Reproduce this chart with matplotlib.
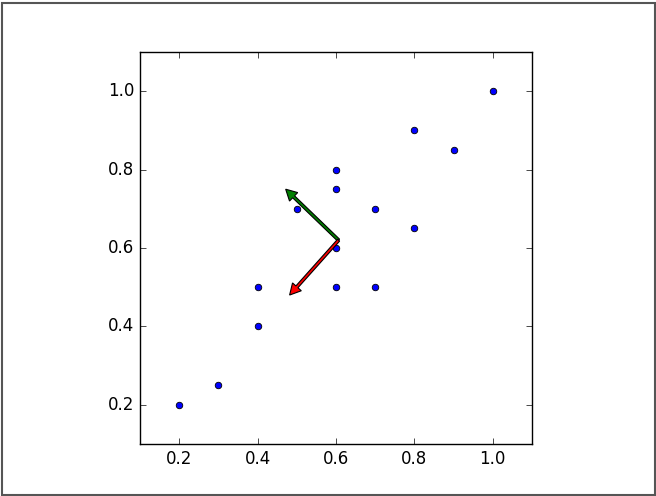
import numpy as np
import matplotlib.pyplot as plt
from matplotlib.patches import Rectangle

plt.style.use('classic')

# data points
x = [0.2, 0.3, 0.4, 0.4, 0.5, 0.6, 0.6, 0.6, 0.6, 0.7, 0.7, 0.8, 0.8, 0.9, 1.0]
y = [0.2, 0.25, 0.4, 0.5, 0.7, 0.5, 0.6, 0.75, 0.8, 0.5, 0.7, 0.65, 0.9, 0.85, 1.0]

# arrow origin and vectors
origin = (np.mean(x), np.mean(y))
vec_green = (-0.135, 0.13)
vec_red = (-0.125, -0.14)

fig = plt.figure(figsize=(6.56, 4.96), dpi=100, facecolor='white')
ax = fig.add_axes([140/656, 1 - 444/496, 392/656, 392/496])

# frame around the whole figure
fig.add_artist(Rectangle((1.5/656, 1.5/496), 653/656, 492/496,
                         transform=fig.transFigure, fill=False,
                         edgecolor='#555555', linewidth=1.5))

ax.scatter(x, y, color='b', edgecolors='k', linewidths=0.6, s=22, zorder=2)
ax.arrow(origin[0], origin[1], vec_green[0], vec_green[1], width=0.007,
         head_width=0.03, head_length=0.028, length_includes_head=True,
         fc='green', ec='black', lw=0.8, zorder=3)
ax.arrow(origin[0], origin[1], vec_red[0], vec_red[1], width=0.007,
         head_width=0.03, head_length=0.028, length_includes_head=True,
         fc='red', ec='black', lw=0.8, zorder=3)

ax.set_xlim(0.1, 1.1)
ax.set_ylim(0.1, 1.1)
ax.set_xticks([0.2, 0.4, 0.6, 0.8, 1.0])
ax.set_yticks([0.2, 0.4, 0.6, 0.8, 1.0])

fig.savefig('out.png', dpi=100, facecolor='white')
